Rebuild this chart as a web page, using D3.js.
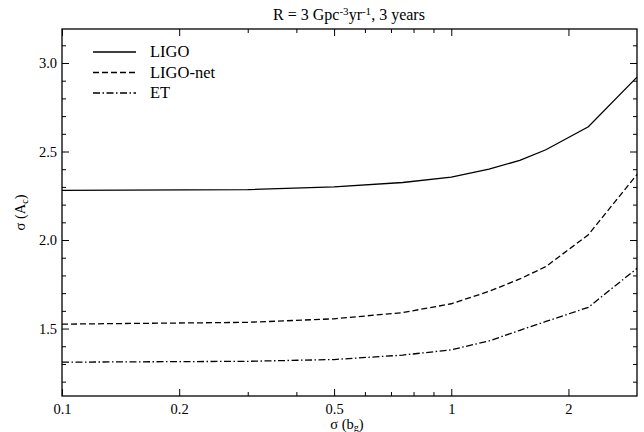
<!DOCTYPE html>
<html>
<head>
<meta charset="utf-8">
<script src="https://cdn.jsdelivr.net/npm/d3@7"></script>
<style>
  body { margin: 0; background: #fff; }
  text { font-family: "Liberation Serif", "Times New Roman", serif; }
</style>
</head>
<body>
<svg width="644" height="432"></svg>
<script>
// values
const sigmaBg = [0.1, 0.3, 0.5, 0.75, 1.0, 1.25, 1.5, 1.75, 2.25, 3.0];
const ligo    = [2.28, 2.285, 2.30, 2.325, 2.355, 2.40, 2.45, 2.51, 2.64, 2.92];
const ligoNet = [1.525, 1.535, 1.555, 1.59, 1.64, 1.71, 1.78, 1.85, 2.03, 2.37];
const et      = [1.31, 1.315, 1.325, 1.35, 1.38, 1.43, 1.49, 1.54, 1.62, 1.84];

const seriesNames = ['LIGO', 'LIGO-net', 'ET'];
const xMajor = [0.1, 0.2, 0.5, 1, 2];
const xMinor = [0.3, 0.4, 0.6, 0.7, 0.8, 0.9];
const yMajor = [1.5, 2.0, 2.5, 3.0];
const yMinor = [1.2, 1.3, 1.4, 1.6, 1.7, 1.8, 1.9, 2.1, 2.2, 2.3, 2.4, 2.6, 2.7, 2.8, 2.9, 3.1];

const pLeft = 62, pRight = 637, pTop = 29, pBottom = 396;

const svg = d3.select('svg');

const x = d3.scaleLog().domain([0.1, 3]).range([pLeft, pRight]);
const y = d3.scaleLinear().domain([1.119, 3.192]).range([pBottom, pTop]);

const fmtX = d => d < 1 ? d3.format('.1f')(d) : d3.format('d')(d);

// axes, ticks pointing inward
const addAxis = (gen, tr, vals, size, pad, fmt) => {
  const a = gen.tickValues(vals).tickSize(-size).tickPadding(pad || 0);
  a.tickFormat(fmt || '');
  const g = svg.append('g').attr('transform', tr).call(a);
  g.attr('font-family', null).attr('font-size', null);
  g.select('.domain').remove();
  g.selectAll('line').attr('stroke', '#000').attr('stroke-width', 1);
  g.selectAll('text').attr('fill', '#000').style('font-size', '14.5px');
  return g;
};

addAxis(d3.axisBottom(x), `translate(0,${pBottom})`, xMajor, 7, 8, fmtX);
addAxis(d3.axisBottom(x), `translate(0,${pBottom})`, xMinor, 4);
addAxis(d3.axisTop(x), `translate(0,${pTop})`, xMajor, 7);
addAxis(d3.axisTop(x), `translate(0,${pTop})`, xMinor, 4);
addAxis(d3.axisLeft(y), `translate(${pLeft},0)`, yMajor, 7, 5, d3.format('.1f'));
addAxis(d3.axisLeft(y), `translate(${pLeft},0)`, yMinor, 4);
addAxis(d3.axisRight(y), `translate(${pRight},0)`, yMajor, 7);
addAxis(d3.axisRight(y), `translate(${pRight},0)`, yMinor, 4);

// frame
svg.append('rect')
  .attr('x', pLeft).attr('y', pTop)
  .attr('width', pRight - pLeft).attr('height', pBottom - pTop)
  .attr('fill', 'none').attr('stroke', '#000').attr('stroke-width', 1.3);

// curves
const dashes = ['none', '6,3', '7,2.5,1.5,2.5'];
const allSeries = [ligo, ligoNet, et];
const line = d3.line().x(d => x(d[0])).y(d => y(d[1]));

allSeries.forEach((vals, i) => {
  svg.append('path')
    .datum(sigmaBg.map((s, j) => [s, vals[j]]))
    .attr('d', line)
    .attr('fill', 'none')
    .attr('stroke', '#000')
    .attr('stroke-width', 1.3)
    .attr('stroke-dasharray', dashes[i]);
});

// legend
const legend = svg.append('g');
seriesNames.forEach((name, i) => {
  const ly = 52 + i * 20.5;
  legend.append('line')
    .attr('x1', 93).attr('x2', 136).attr('y1', ly).attr('y2', ly)
    .attr('stroke', '#000').attr('stroke-width', 1.3)
    .attr('stroke-dasharray', dashes[i]);
  legend.append('text')
    .attr('x', 150).attr('y', ly + 5)
    .style('font-size', '16.5px')
    .text(name);
});

// title
const title = svg.append('text')
  .attr('x', 349).attr('y', 20)
  .attr('text-anchor', 'middle')
  .style('font-size', '16px');
title.append('tspan').text('R = 3 Gpc');
title.append('tspan').attr('dy', -5).style('font-size', '11px').text('-3');
title.append('tspan').attr('dy', 5).text('yr');
title.append('tspan').attr('dy', -5).style('font-size', '11px').text('-1');
title.append('tspan').attr('dy', 5).text(', 3 years');

// x label
const xl = svg.append('text')
  .attr('x', 347).attr('y', 428.5)
  .attr('text-anchor', 'middle')
  .style('font-size', '14.5px');
xl.append('tspan').text('σ (b');
xl.append('tspan').attr('dy', 2.5).style('font-size', '10px').text('g');
xl.append('tspan').attr('dy', -2.5).text(')');

// y label
const yl = svg.append('text')
  .attr('transform', `translate(25,${(pTop + pBottom) / 2}) rotate(-90)`)
  .attr('text-anchor', 'middle')
  .style('font-size', '14.5px');
yl.append('tspan').text('σ (A');
yl.append('tspan').attr('dy', 2.5).style('font-size', '10px').text('c');
yl.append('tspan').attr('dy', -2.5).text(')');
</script>
</body>
</html>
